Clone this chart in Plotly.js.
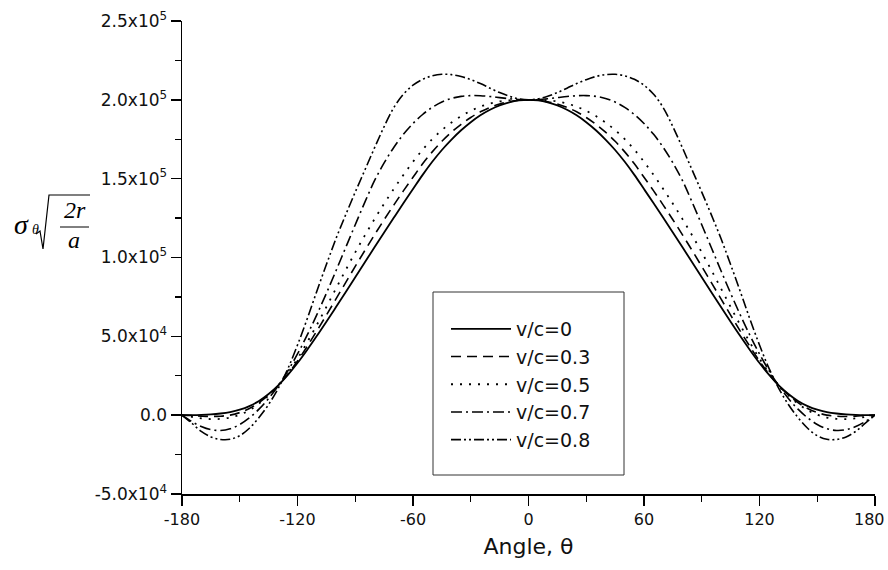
<!DOCTYPE html>
<html>
<head>
<meta charset="utf-8">
<script src="https://cdn.plot.ly/plotly-3.0.1.min.js"></script>
<style>html,body{margin:0;padding:0;background:#fff;}#chart{width:888px;height:570px;}</style>
</head>
<body>
<div id="chart"></div>
<script>
// Angle θ (degrees)
var angle = [-180,-175,-170,-165,-160,-155,-150,-145,-140,-135,-130,-125,-120,-115,-110,-105,-100,-95,-90,-85,-80,-75,-70,-65,-60,-55,-50,-45,-40,-35,-30,-25,-20,-15,-10,-5,0,
  5,10,15,20,25,30,35,40,45,50,55,60,65,70,75,80,85,90,95,100,105,110,115,120,125,130,135,140,145,150,155,160,165,170,175,180];

// σθ·sqrt(2r/a)
var vc0 = [0,50,200,500,1050,1950,3450,5750,9050,13450,18950,25550,33050,41350,50150,59250,68550,77950,87450,96950,106450,115850,125150,134350,143400,152400,160700,168200,174800,180700,185800,190200,193700,196500,198400,199600,200000,
  199600,198400,196500,193700,190200,185800,180700,174800,168200,160700,152400,143400,134350,125150,115850,106450,96950,87450,77950,68550,59250,50150,41350,33050,25550,18950,13450,9050,5750,3450,1950,1050,500,200,50,0];

var vc03 = [0,-250,-600,-800,-650,50,1650,4250,7950,12850,18850,26050,34350,43550,53350,63450,73750,84050,94350,104450,114350,123950,133250,142250,150900,159400,167000,173700,179500,184500,188800,192400,195200,197400,198800,199700,200000,
  199700,198800,197400,195200,192400,188800,184500,179500,173700,167000,159400,150900,142250,133250,123950,114350,104450,94350,84050,73750,63450,53350,43550,34350,26050,18850,12850,7950,4250,1650,50,-650,-800,-600,-250,0];

var vc05 = [0,-1050,-2000,-2500,-2350,-1550,250,3150,7250,12550,18950,26750,35850,46150,57150,68650,80350,91950,103250,114050,124350,134150,143450,152350,160700,168400,175100,180800,185600,189700,193000,195700,197600,199000,199700,200000,200000,
  200000,199700,199000,197600,195700,193000,189700,185600,180800,175100,168400,160700,152350,143450,134150,124350,114050,103250,91950,80350,68650,57150,46150,35850,26750,18950,12550,7250,3150,250,-1550,-2350,-2500,-2000,-1050,0];

var vc07 = [0,-4000,-7200,-9200,-9700,-8600,-5900,-1700,3800,10600,18700,28100,38800,50700,63600,77300,91600,106200,120800,135100,148700,160000,169800,178100,185000,190700,195200,198600,200900,202200,202700,202600,202100,201400,200700,200200,200000,
  200200,200700,201400,202100,202600,202700,202200,200900,198600,195200,190700,185000,178100,169800,160000,148700,135100,120800,106200,91600,77300,63600,50700,38800,28100,18700,10600,3800,-1700,-5900,-8600,-9700,-9200,-7200,-4000,0];

var vc08 = [0,-5000,-10300,-13800,-15400,-15300,-13000,-8300,-1500,6800,17000,29500,44500,61000,78500,95500,112000,127000,141500,155500,169500,183000,195000,203500,209300,213000,215200,216200,216000,214800,212800,210300,207400,204600,202300,200600,200000,
  200600,202300,204600,207400,210300,212800,214800,216000,216200,215200,213000,209300,203500,195000,183000,169500,155500,141500,127000,112000,95500,78500,61000,44500,29500,17000,6800,-1500,-8300,-13000,-15300,-15400,-13800,-10300,-5000,0];

var seriesNames = ['v/c=0','v/c=0.3','v/c=0.5','v/c=0.7','v/c=0.8'];
var seriesData = [vc0, vc03, vc05, vc07, vc08];
var dashes = ['solid','10px,6px','2px,7px','11px,4px,2px,4px','10px,3px,2px,3px,2px,3px'];
var widths = [1.8,1.6,1.8,1.6,1.6];

var xTickVals = [-180,-120,-60,0,60,120,180];
var xTickText = ['-180','-120','-60','0','60','120',''];
var xLastLabel = '180';
var xMinorVals = [-150,-90,-30,30,90,150];
var yTickVals = [-50000,0,50000,100000,150000,200000,250000];
var yTickText = ['-5.0x10<sup>4</sup>','0.0','5.0x10<sup>4</sup>','1.0x10<sup>5</sup>','1.5x10<sup>5</sup>','2.0x10<sup>5</sup>','2.5x10<sup>5</sup>'];
var yMinorVals = [-25000,25000,75000,125000,175000,225000];

var traces = seriesData.map(function(d,i){
  return {x: angle, y: d, type:'scatter', mode:'lines', name: seriesNames[i],
    line:{color:'#000', width:widths[i], dash:dashes[i], shape:'spline', smoothing:1}};
});

var L=182, T=21, R=875, B=494;
function px(x){return (x-L)/(R-L);}
function py(y){return (B-y)/(B-T);}

var serif = 'Liberation Serif, Times New Roman, serif';
var xTickFont = {family:'DejaVu Sans, sans-serif', size:16, color:'#111'};
var annotations = [
  {text:'σ', x:px(21), y:py(224), font:{family:serif, size:28, color:'#000', style:'italic'}},
  {text:'θ', x:px(35), y:py(229), font:{family:serif, size:14, color:'#000', style:'italic'}},
  {text:'2r', x:px(75), y:py(210), font:{family:serif, size:24, color:'#000', style:'italic'}},
  {text:'a', x:px(74), y:py(240), font:{family:serif, size:24, color:'#000', style:'italic'}}
].map(function(a){a.xref='paper';a.yref='paper';a.showarrow=false;a.xanchor='center';a.yanchor='middle';return a;});
annotations.push({text:xLastLabel, xref:'paper', yref:'paper', x:px(887), y:py(519), xanchor:'right', yanchor:'middle',
  showarrow:false, font:xTickFont});

function P(x,y){return px(x)+','+py(y);}
var shapes = [
  {type:'path', xref:'paper', yref:'paper', path:'M'+P(36,234)+' L'+P(40,231)+' L'+P(43,249)+' L'+P(49,195)+' L'+P(90,195), line:{color:'#000', width:1.2}},
  {type:'line', xref:'paper', yref:'paper', x0:px(60), x1:px(89), y0:py(227), y1:py(227), line:{color:'#000', width:1}},
  {type:'rect', xref:'paper', yref:'paper', x0:px(433), x1:px(624), y0:py(475), y1:py(292), line:{color:'#333', width:1}}
];

var tickFont = {family:'DejaVu Sans, sans-serif', size:17, color:'#111'};

var layout = {
  width:888, height:570,
  margin:{l:L, r:888-R, t:T, b:570-B, pad:0},
  paper_bgcolor:'#fff', plot_bgcolor:'#fff',
  showlegend:true,
  legend:{x:px(446), y:py(310), xanchor:'left', yanchor:'top', bgcolor:'rgba(0,0,0,0)', borderwidth:0,
    font:{family:'DejaVu Sans, sans-serif', size:19, color:'#111'}, itemwidth:60, tracegroupgap:0},
  xaxis:{range:[-180,180], showline:true, linecolor:'#000', linewidth:1.5, mirror:false, showgrid:false, zeroline:false,
    tickmode:'array', tickvals:xTickVals, ticktext:xTickText, ticks:'outside', ticklen:10, tickwidth:1.5, tickcolor:'#000',
    ticklabeloverflow:'allow',
    minor:{tickmode:'array', tickvals:xMinorVals, ticks:'outside', ticklen:6, tickwidth:1.2, tickcolor:'#000', showgrid:false},
    tickfont:xTickFont, fixedrange:true,
    title:{text:'Angle, θ', font:{family:'DejaVu Sans, sans-serif', size:22, color:'#111'}, standoff:11}},
  yaxis:{range:[-50000,250000], showline:true, linecolor:'#000', linewidth:1.5, showgrid:false, zeroline:false,
    tickmode:'array', tickvals:yTickVals, ticktext:yTickText, ticks:'outside', ticklen:10, tickwidth:1.5, tickcolor:'#000',
    ticklabeloverflow:'allow',
    minor:{tickmode:'array', tickvals:yMinorVals, ticks:'outside', ticklen:6, tickwidth:1.2, tickcolor:'#000', showgrid:false},
    tickfont:tickFont, fixedrange:true},
  annotations:annotations,
  shapes:shapes
};

Plotly.newPlot('chart', traces, layout, {displayModeBar:false, staticPlot:true});
</script>
</body>
</html>
